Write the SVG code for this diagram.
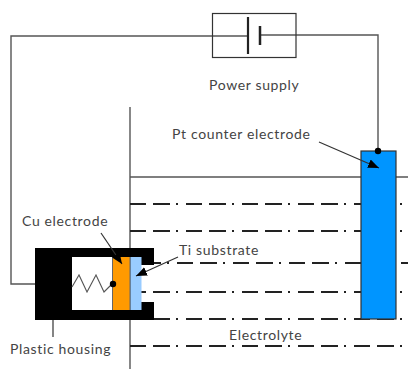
<svg xmlns="http://www.w3.org/2000/svg" width="408" height="369" viewBox="0 0 408 369">
<style>
text{font-family:"Lato","Noto Sans",sans-serif;font-size:14px;letter-spacing:.65px;fill:#444}
.w{fill:none;stroke:#555;stroke-width:1.4}
.d{fill:none;stroke:#222;stroke-width:2;stroke-dasharray:17 6 2 8 16 7}
.l{fill:none;stroke:#333;stroke-width:1.2}
</style>
<defs><marker id="a" markerUnits="userSpaceOnUse" markerWidth="12" markerHeight="10" refX="11" refY="4.500" orient="auto"><path d="M0 0L11 4.500L0 9Z" fill="#000"/></marker></defs>
<rect width="408" height="369" fill="#fff"/>
<g id="connectors">
<path class="w" d="M130 107V369"/>
<path class="w" d="M130 177H408"/>
<path class="d" stroke-dashoffset="33" d="M130 204H408"/>
<path class="d" stroke-dashoffset="33" d="M130 231H408"/>
<path class="d" stroke-dashoffset="54" d="M142 263H408"/>
<path class="d" stroke-dashoffset="33" d="M130 292H408"/>
<path class="d" stroke-dashoffset="33" d="M130 319H408"/>
<path class="d" stroke-dashoffset="33" d="M130 346H408"/>
<path class="w" d="M35 284H11V36H247"/>
<path class="w" d="M261 35H378V151" stroke-width="1.8"/>
<path class="l" d="M53 320V337"/>
</g>
<g id="power-supply">
<rect x="212.500" y="13.500" width="83.500" height="44" fill="none" stroke="#333" stroke-width="1.2"/>
<path d="M248 17V54" stroke="#222" stroke-width="2.2"/>
<path d="M260 26V45" stroke="#222" stroke-width="2.500"/>
<text x="209" y="90">Power supply</text>
</g>
<g id="pt-electrode">
<rect x="361" y="151" width="35" height="168" fill="#0095ff" stroke="#333" stroke-width="1.2"/>
<circle cx="378" cy="151" r="3.200" fill="#000"/>
<text x="172" y="139">Pt counter electrode</text>
</g>
<g id="housing">
<path d="M35 248H154V265H141V302H154V320H35Z" fill="#000"/>
<rect x="72" y="257" width="41" height="53" fill="#fff"/>
<text x="10" y="354">Plastic housing</text>
</g>
<g id="cu-electrode">
<rect x="113" y="257" width="17" height="53" fill="#ff9a00"/>
<path d="M112.500 257V310M130 257V310" stroke="#666" stroke-width="1"/>
<path fill="none" stroke="#555" stroke-width="1.100" d="M72 287L79 275L87 292L96 275L104 292L112 284"/>
<circle cx="113" cy="284" r="3.200" fill="#000"/>
<text x="22" y="226">Cu electrode</text>
</g>
<g id="ti-substrate">
<rect x="130.500" y="257" width="11" height="53" fill="#99ccff"/>
<text x="179" y="255">Ti substrate</text>
</g>
<g id="leaders">
<path class="l" d="M101 233L122 264" marker-end="url(#a)"/>
<path class="l" d="M178 257L136 276" marker-end="url(#a)"/>
<path class="l" d="M319 142L379 168" marker-end="url(#a)"/>
</g>
<g id="electrolyte"><text x="229" y="340">Electrolyte</text></g>
</svg>
